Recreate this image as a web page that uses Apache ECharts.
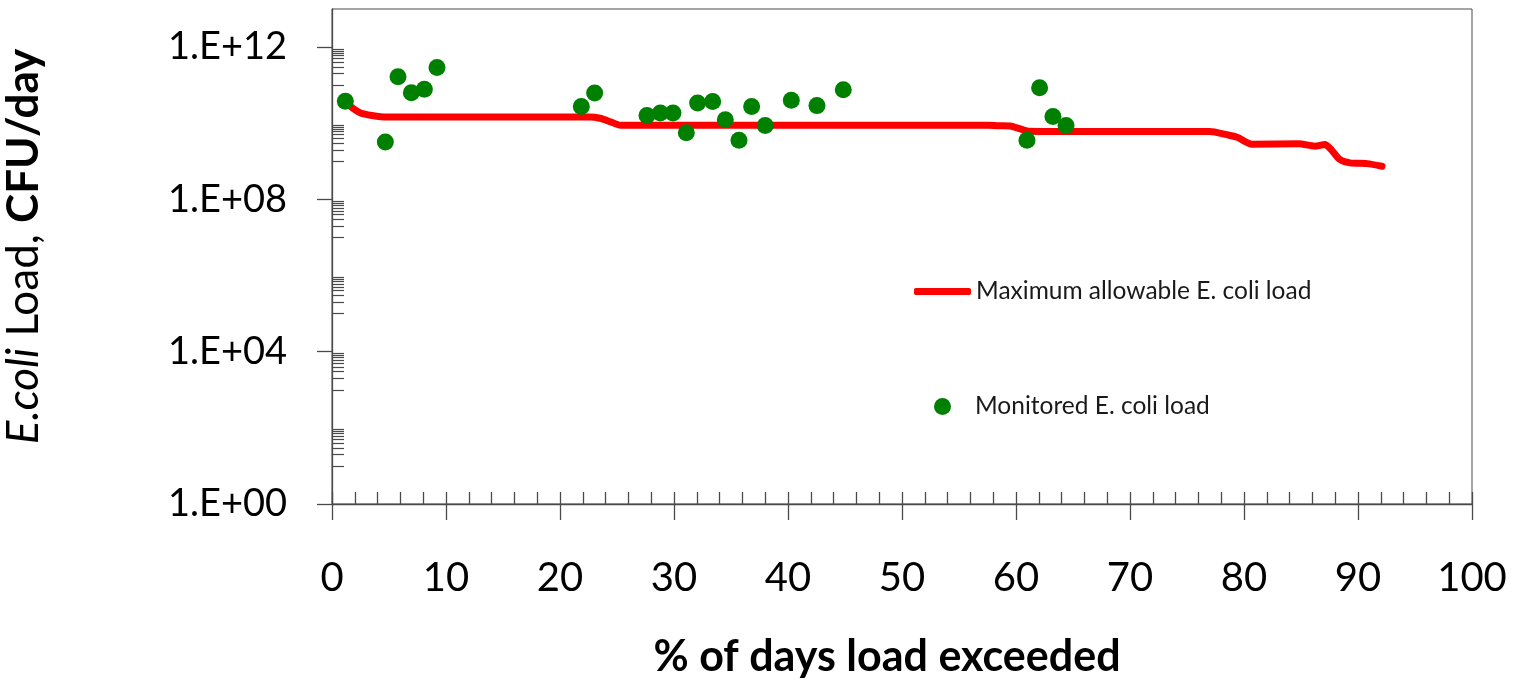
<!DOCTYPE html>
<html>
<head>
<meta charset="utf-8">
<script src="https://cdn.jsdelivr.net/npm/echarts@6/dist/echarts.min.js"></script>
<style>
html,body{margin:0;padding:0;background:#fff;}
#chart{width:1514px;height:683px;}
</style>
</head>
<body>
<div id="chart"></div>
<script>
// ---- Data ----
// Maximum allowable E. coli load (load duration curve)
const allowX = [1.17, 1.8, 2.5, 3.5, 4.8, 10, 20, 22.6, 23.5, 24.5, 25.3, 30, 40, 50, 57.5, 58.5, 59.5, 60.3, 61.1, 65, 70, 77.0, 78.5, 79.4, 80.7, 84.8, 86.2, 87.1, 87.6, 88.4, 89.3, 90.8, 92.1];
const allowY = [3.8e10, 2.5e10, 1.86e10, 1.6e10, 1.45e10, 1.45e10, 1.45e10, 1.45e10, 1.35e10, 1.07e10, 8.9e9, 8.9e9, 8.9e9, 8.9e9, 8.9e9, 8.6e9, 8.5e9, 7.2e9, 6.2e9, 6.1e9, 6.1e9, 6.1e9, 5.0e9, 4.3e9, 2.8e9, 2.9e9, 2.5e9, 2.75e9, 2.1e9, 1.12e9, 9.1e8, 8.7e8, 7.4e8];
// Monitored E. coli load
const monX = [1.17, 4.68, 5.79, 6.96, 8.10, 9.21, 21.87, 23.04, 27.63, 28.80, 29.91, 31.08, 32.07, 33.39, 34.5, 35.7, 36.81, 38.0, 40.29, 42.54, 44.85, 60.96, 62.07, 63.24, 64.39];
const monY = [3.8e10, 3.2e9, 1.66e11, 6.3e10, 7.8e10, 2.9e11, 2.75e10, 6.2e10, 1.6e10, 1.86e10, 1.86e10, 5.6e9, 3.4e10, 3.7e10, 1.23e10, 3.55e9, 2.75e10, 8.7e9, 4.0e10, 2.9e10, 7.6e10, 3.55e9, 8.5e10, 1.5e10, 8.7e9];
// Tick values
const yMajorTicks = [1, 1e4, 1e8, 1e12];
const yMinorExponents = [1, 3, 5, 7, 9, 11];
const yMinorMultipliers = [1, 2, 3, 4, 5, 6, 7, 8, 9];
const xLabels = [0, 10, 20, 30, 40, 50, 60, 70, 80, 90, 100];

const seriesNames = ['Maximum allowable E. coli load', 'Monitored E. coli load'];

const yMinorTicks = [];
yMinorExponents.forEach(e => yMinorMultipliers.forEach(m => yMinorTicks.push(m * Math.pow(10, e))));

const FONT = 'Lato';
const AXIS_COLOR = '#4a4a4a';

function fmtE(v) {
  const e = Math.round(Math.log10(v));
  return '1.E+' + (e < 10 ? '0' + e : '' + e);
}

const chart = echarts.init(document.getElementById('chart'), null, {renderer: 'canvas'});
chart.setOption({
  animation: false,
  backgroundColor: '#ffffff',
  grid: {
    left: 332, right: 42, top: 9, bottom: 179,
    outerBoundsMode: 'none',
    containLabel: false,
    show: true, borderColor: AXIS_COLOR, borderWidth: 1, backgroundColor: 'transparent'
  },
  legend: [
    {
      data: [{name: seriesNames[0], icon: 'roundRect'}],
      left: 909, top: 274,
      itemWidth: 57, itemHeight: 7,
      textStyle: {fontFamily: FONT, fontSize: 24.5, color: '#1a1a1a'},
      selectedMode: false
    },
    {
      data: [{name: seriesNames[1], icon: 'circle'}],
      left: 929, top: 389,
      itemWidth: 17, itemHeight: 17,
      textStyle: {fontFamily: FONT, fontSize: 24.5, color: '#1a1a1a', padding: [0, 0, 0, 19]},
      selectedMode: false
    }
  ],
  xAxis: [
    {
      type: 'value', min: 0, max: 100, interval: 10,
      name: '% of days load exceeded',
      nameLocation: 'middle', nameGap: 132,
      nameTextStyle: {fontFamily: FONT, fontSize: 43, fontWeight: 'bold', color: '#000',
        padding: [0, 30, 0, 0]},
      axisLine: {show: true, onZero: false, lineStyle: {color: AXIS_COLOR, width: 1.3}},
      axisTick: {show: true, inside: false, length: 16, lineStyle: {color: AXIS_COLOR, width: 1.3}},
      axisLabel: {show: true, margin: 54, fontFamily: FONT, fontSize: 40, color: '#000',
        customValues: xLabels},
      splitLine: {show: false}
    },
    {
      type: 'value', min: 0, max: 100, interval: 2, position: 'bottom',
      axisLine: {show: false},
      axisTick: {show: true, inside: true, length: 12, lineStyle: {color: AXIS_COLOR, width: 1.3}},
      axisLabel: {show: false},
      splitLine: {show: false}
    }
  ],
  yAxis: [
    {
      type: 'log', logBase: 10, min: 1, max: 1e13,
      name: '{i|E.coli} {n|Load,} {b|CFU/day}',
      nameLocation: 'middle', nameRotate: 90, nameGap: 286,
      nameTextStyle: {
        fontFamily: FONT, fontSize: 44, color: '#000',
        padding: [0, 0, 0, 20],
        rich: {
          i: {fontFamily: FONT, fontSize: 44, fontStyle: 'italic', color: '#000'},
          n: {fontFamily: FONT, fontSize: 44, color: '#000'},
          b: {fontFamily: FONT, fontSize: 44, fontWeight: 'bold', color: '#000'}
        }
      },
      axisLine: {show: true, lineStyle: {color: AXIS_COLOR, width: 1.3}},
      axisTick: {show: true, inside: false, length: 15, customValues: yMajorTicks,
        lineStyle: {color: AXIS_COLOR, width: 1.3}},
      axisLabel: {show: true, margin: 45, fontFamily: FONT, fontSize: 38, color: '#000',
        customValues: yMajorTicks, formatter: v => fmtE(v)},
      splitLine: {show: false},
      minorTick: {show: false}
    },
    {
      type: 'log', logBase: 10, min: 1, max: 1e13, position: 'left',
      axisLine: {show: false},
      axisTick: {show: true, inside: true, length: 12, customValues: yMinorTicks,
        lineStyle: {color: AXIS_COLOR, width: 1.2}},
      axisLabel: {show: false},
      splitLine: {show: false}
    }
  ],
  series: [
    {
      name: seriesNames[0],
      type: 'line',
      xAxisIndex: 0, yAxisIndex: 0,
      data: allowX.map((x, i) => [x, allowY[i]]),
      showSymbol: false, symbol: 'none',
      smooth: 0.25,
      lineStyle: {color: '#ff0000', width: 7, cap: 'round', join: 'round'},
      itemStyle: {color: '#ff0000'},
      z: 2
    },
    {
      name: seriesNames[1],
      type: 'scatter',
      xAxisIndex: 0, yAxisIndex: 0,
      data: monX.map((x, i) => [x, monY[i]]),
      symbol: 'circle', symbolSize: 17,
      itemStyle: {color: '#008000', opacity: 1},
      z: 3
    }
  ]
});
</script>
</body>
</html>
